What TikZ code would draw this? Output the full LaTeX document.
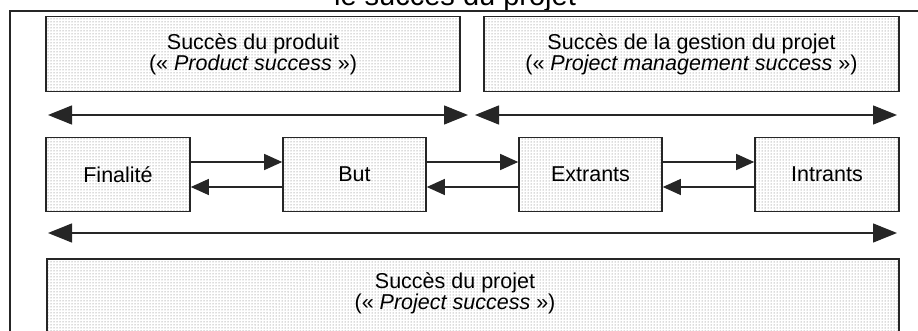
\documentclass[tikz,border=0pt]{standalone}
\usepackage{fontspec}
\setmainfont{Liberation Sans}
\usetikzlibrary{arrows.meta,patterns}

\begin{document}
\begin{tikzpicture}[x=1pt,y=-1pt,
  panel/.style={draw=black!85, line width=1.6pt, pattern=dots,
    pattern color=black!60, inner sep=0pt, align=center,
    font=\fontsize{21.5}{21}\selectfont},
  label/.style={align=center, font=\fontsize{21.5}{21}\selectfont},
  bigarrow/.style={draw=black!85, line width=1.3pt,
    {Triangle[length=24pt,width=19pt]}-{Triangle[length=24pt,width=19pt]}},
  smallarrow/.style={draw=black!85, line width=1.2pt,
    -{Triangle[length=18pt,width=16pt]}}]

  % page area
  \clip (0,0) rectangle (918,331);

  % caption running above the frame
  \node[anchor=base, font=\fontsize{29}{30}\selectfont] (title) at (455,5.5)
    {le succès du projet};

  % outer frame
  \draw[line width=1.3pt, black!85] (10,345) |- (930,11);

  % top panels
  \node[panel, minimum width=414pt, minimum height=75pt] (prod) at (253,54)
    {Succès du produit\\(« \textit{Product success} »)};
  \node[panel, minimum width=415pt, minimum height=75pt] (gest) at (691.5,54)
    {Succès de la gestion du projet\\(« \textit{Project management success} »)};

  % scope arrows under the top panels
  \coordinate (pl) at (48,115);
  \coordinate (pr) at (468,115);
  \coordinate (gl) at (475,115);
  \coordinate (gr) at (897,115);
  \draw[bigarrow] (pl) -- (pr);
  \draw[bigarrow] (gl) -- (gr);

  % chain of boxes
  \node[panel, minimum width=144pt, minimum height=74pt] (fin) at (118,174.5) {Finalité};
  \node[panel, minimum width=143pt, minimum height=74pt] (but) at (354.5,174.5) {But};
  \node[panel, minimum width=143pt, minimum height=74pt] (ext) at (590.5,174.5) {Extrants};
  \node[panel, minimum width=144pt, minimum height=74pt] (int) at (827,174.5) {Intrants};

  \foreach \a/\b in {fin/but, but/ext, ext/int}{
    \draw[smallarrow] ([yshift=12.5pt]\a.east) -- ([yshift=12.5pt]\b.west);
    \draw[smallarrow] ([yshift=-12.5pt]\b.west) -- ([yshift=-12.5pt]\a.east);
  }

  % scope arrow over the whole project
  \coordinate (tl) at (48,233);
  \coordinate (tr) at (897,233);
  \draw[bigarrow] (tl) -- (tr);

  % bottom panel
  \node[panel, minimum width=852pt, minimum height=86pt] (proj) at (473,302) {};
  \node[label] (projtxt) at (455,293)
    {Succès du projet\\(« \textit{Project success} »)};
\end{tikzpicture}
\end{document}
